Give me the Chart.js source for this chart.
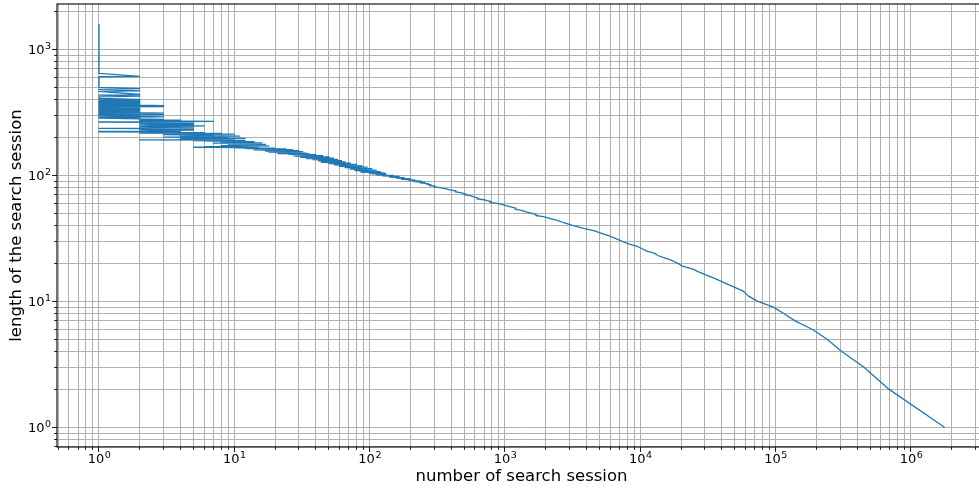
<!DOCTYPE html>
<html>
<head>
<meta charset="utf-8">
<script src="https://cdn.jsdelivr.net/npm/chart.js@4/dist/chart.umd.min.js"></script>
<style>
  html, body { margin:0; padding:0; background:#fff; overflow:hidden; }
  /* axes run a little past the right edge of the window, as in the source figure */
  #wrap { width:987px; height:488px; position:relative; }
</style>
</head>
<body>
<div id="wrap"><canvas id="chart"></canvas></div>
<script>
// [session length, number of sessions], ordered by length (longest first)
const longSessions = [
  [1580,1],[1290,1],[1060,1],[905,1],[790,1],[700,1],[645,1],
  [611,2],[606,1],[545,1],[498,1],[487,2],[481,1],[468,2],[463,1],
  [438,2],[433,1],[425,2],[420,1],[408,1]
];
const denseBand = [
  [400,2],[397,1],[394,2],[391,1],[388,2],[385,1],[382,2],[379,1],[377,2],[374,1],
  [371,2],[368,1],[366,2],[363,1],[360,2],[358,3],[356,1],[353,2],[351,3],[349,1],
  [346,2],[343,1],[341,2],[338,1],[335,2],[333,1],[330,2],[327,1],[325,2],[322,1],
  [319,2],[317,1],[314,2],[312,3],[311,1],[309,2],[306,1],[303,3],[301,1],[298,2],
  [296,1],[293,2],[291,3],[289,1],[286,2],[284,1],
  [281,2],[278,3],[276,2],[274,4],[272,2],[270,3],[268,7],[266,2],[265,1],[263,3],
  [261,2],[259,5],[257,2],[255,3],[253,5],[251,2],[249,3],[247,6],[245,2],[243,3],
  [241,5],[239,2],[237,3],[236,1],[234,5],[232,2],[230,3],[228,5],[226,2],[224,3],
  [223,1],[222,4],[221,1],[220,3]
];
const steepBand = [
  [219,3],[218,6],[216,2],[215,8],[213,4],[212,10],[210,3],[208,7],[207,5],[205,11],
  [204,4],[202,8],[201,3],[199,9],[198,6],[196,12],[195,4],[193,9],[192,7],[191,2],
  [190,10],[189,5],
  [188,12],[187,6],[185,14],[184,8],[183,11],[181,16],[180,7],[179,13],[177,9],[176,17],
  [175,10],[173,14],[172,8],[171,18],[170,11],[169,6],[168,13],[167,5],[166,15],[165,10],
  [164,20],[163,12],[162,24],[161,15],[160,27],[159,14],[158,21],[157,30],[156,17],[155,25],
  [154,32],[153,18],[152,28],[151,22],[150,34],
  [149,21],[148,36],[147,25],[146,40],[145,27],[144,33],[143,45],[142,28],[141,38],[140,50],
  [139,31],[138,42],[137,54],[136,34],[135,47],[134,58],[133,38],[132,50],[131,62],[130,42]
];
const midRange = [
  [129,48],[128,66],[127,44],[126,58],[125,72],[124,50],[123,64],[122,80],[121,55],[120,71],
  [119,88],[118,60],[117,78],[116,96],[115,66],[114,86],[113,104],[112,72],[111,94],[110,112],
  [109,78],[108,102],[107,120],[106,86],[105,112],[104,130],
  [103,100],[102,132],[101,112],[100,150],[99,125],[98,165],[97,140],[96,180],[95,158],[94,200],
  [93,172],[92,215],[91,195],[90,240],[89,215],[88,258],[87,236],[86,272],[85,262],[84,285],
  [83,276],[82,305],[81,298],[80,330],
  [79,345],[78,368],[77,385],[76,412],[75,436],[74,430],[73,470],[72,492],[71,515],[70,506],
  [69,552],[68,575],[67,598],[66,632],[65,622],[64,698],[63,735],[62,790],[61,776],[60,875],
  [59,930],[58,990]
];
const tailRange = [
  [57,1050],[56,1120],[55,1200],[54,1185],[53,1300],[52,1380],[51,1460],[50,1560],[49,1700],[48,1690],
  [47,1920],[46,2080],[45,2230],[44,2400],[43,2580],[42,2750],[41,2950],[40,3150],[39,3480],[38,3800],
  [37,4200],[36,4650],[35,5050],[34,5450],[33,5900],[32,6350],[31,6800],[30,7300],[29,7900],[28,8700],
  [27,9700],[26,10400],[25,11200],[24,12800],[23,13600],[22,15300],[21,17300],[20,19000],[19,20500],[18,24500],
  [17,27500],[16,31500],[15,36500],[14,42000],[13,49000],[12,58000],[11,63000],[10,74000],[9,96000],[8,115000],
  [7,139000],[6,186000],[5,240000],[4,308000],[3,450000],[2,690000],[1,1770000]
];

const xDecades = [0,1,2,3,4,5,6];
const yDecades = [0,1,2,3];
const gridSteps = [1,2,3,4,5,6,7,8,9];
const xTitle = 'number of search session';
const yTitle = 'length of the search session';

const FONT = "'DejaVu Sans'";
const TICK_PX = 13, SUP_PX = 9.5;

const pts = [...longSessions, ...denseBand, ...steepBand, ...midRange, ...tailRange]
  .map(([len, n]) => ({x: n, y: len}));

function logGrid(s) {
  const out = [];
  for (let e = Math.floor(Math.log10(s.min)); e <= Math.ceil(Math.log10(s.max)); e++)
    for (const m of gridSteps) {
      const v = m * Math.pow(10, e);
      if (v >= s.min && v <= s.max) out.push({value: v});
    }
  s.ticks = out;
}
const isMajor = v => Math.abs(Math.log10(v) - Math.round(Math.log10(v))) < 1e-9;
const align = p => Math.round(p - 0.5) + 0.5;

function powLabel(ctx, exp, x, y, mode) {
  ctx.font = `${TICK_PX}px ${FONT}`;
  const wb = ctx.measureText('10').width;
  ctx.font = `${SUP_PX}px ${FONT}`;
  const ws = ctx.measureText(String(exp)).width;
  const left = mode === 'center' ? x - (wb + ws) / 2 : x - wb - ws;
  ctx.font = `${TICK_PX}px ${FONT}`;
  ctx.fillText('10', left, y);
  ctx.font = `${SUP_PX}px ${FONT}`;
  ctx.fillText(String(exp), left + wb + 0.5, y - 5);
}

const decor = {
  id: 'decor',
  afterDraw(chart) {
    const {ctx, chartArea: a, scales: {x, y}} = chart;
    ctx.save();
    ctx.strokeStyle = '#000';
    ctx.lineWidth = 1.1;
    ctx.strokeRect(a.left, a.top, a.right - a.left, a.bottom - a.top);

    ctx.beginPath();
    x.ticks.forEach(t => {
      const p = align(x.getPixelForValue(t.value));
      ctx.moveTo(p, a.bottom); ctx.lineTo(p, a.bottom + (isMajor(t.value) ? 4.9 : 2.8));
    });
    y.ticks.forEach(t => {
      const p = align(y.getPixelForValue(t.value));
      ctx.moveTo(a.left, p); ctx.lineTo(a.left - (isMajor(t.value) ? 4.9 : 2.8), p);
    });
    ctx.lineWidth = 0.9;
    ctx.stroke();

    ctx.fillStyle = '#000';
    ctx.textAlign = 'left';
    ctx.textBaseline = 'alphabetic';
    xDecades.forEach(e => powLabel(ctx, e, x.getPixelForValue(Math.pow(10, e)), 462.5, 'center'));
    yDecades.forEach(e => powLabel(ctx, e, 50.5, y.getPixelForValue(Math.pow(10, e)) + 5, 'right'));

    ctx.font = `16.5px ${FONT}`;
    ctx.textAlign = 'center';
    ctx.fillText(xTitle, (a.left + a.right) / 2, 480.5);
    ctx.translate(20.5, (a.top + a.bottom) / 2);
    ctx.rotate(-Math.PI / 2);
    ctx.fillText(yTitle, 0, 0);
    ctx.restore();
  }
};

const axis = (min, max) => ({
  type: 'logarithmic', min, max,
  afterBuildTicks: logGrid,
  ticks: {display: false},
  grid: {color: '#b0b0b0', lineWidth: 1, drawTicks: false},
  border: {display: false}
});

new Chart(document.getElementById('chart'), {
  type: 'scatter',
  data: {
    datasets: [{
      data: pts, showLine: true, borderColor: '#1f77b4', borderWidth: 1.3,
      borderJoinStyle: 'round', pointRadius: 0, pointHoverRadius: 0, tension: 0, fill: false
    }]
  },
  options: {
    responsive: true, maintainAspectRatio: false, animation: false, events: [],
    layout: {padding: {left: 57, right: 1, top: 4, bottom: 41}},
    plugins: {legend: {display: false}, tooltip: {enabled: false}},
    scales: {
      x: axis(0.4894, 3.587e6),
      y: axis(0.698, 2289)
    }
  },
  plugins: [decor]
});
</script>
</body>
</html>
